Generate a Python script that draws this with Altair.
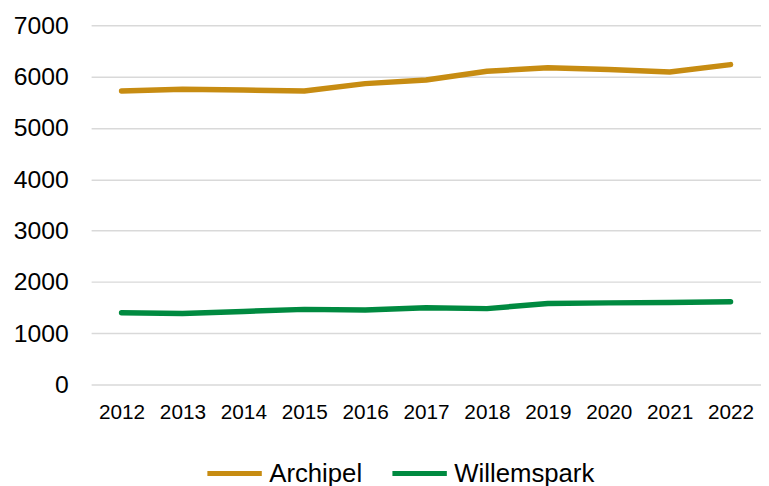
import altair as alt
import pandas as pd

years = ["2012", "2013", "2014", "2015", "2016", "2017", "2018", "2019", "2020", "2021", "2022"]
archipel = [5720, 5755, 5740, 5720, 5865, 5935, 6105, 6175, 6140, 6090, 6235]
willemspark = [1400, 1385, 1425, 1465, 1452, 1495, 1480, 1580, 1592, 1600, 1612]
series = ["Archipel", "Willemspark"]
colors = ["#C78C12", "#008A40"]
y_ticks = [0, 1000, 2000, 3000, 4000, 5000, 6000, 7000]

rows = []
for name, vals in zip(series, [archipel, willemspark]):
    for y, v in zip(years, vals):
        rows.append({"year": y, "series": name, "value": v})
df = pd.DataFrame(rows)

chart = alt.Chart(df).mark_line(strokeWidth=5.5, strokeCap="round", strokeJoin="round").encode(
    x=alt.X("year:O", sort=years, title=None,
            axis=alt.Axis(labelAngle=0, labelFontSize=21, labelFont="Liberation Sans",
                          labelColor="#000000", ticks=False, domain=False, grid=False,
                          labelPadding=17)),
    y=alt.Y("value:Q", title=None, scale=alt.Scale(domain=[0, 7000], nice=False),
            axis=alt.Axis(values=y_ticks, format="d", labelFontSize=25, labelFont="Liberation Sans",
                          labelColor="#000000", ticks=False, domain=False,
                          labelPadding=23, gridColor="#D9D9D9", gridWidth=1.5)),
    color=alt.Color("series:N", scale=alt.Scale(domain=series, range=colors), title=None,
                    legend=alt.Legend(orient="none", direction="horizontal", legendX=115,
                                      legendY=423, symbolType="stroke", symbolSize=3025,
                                      symbolStrokeWidth=5, labelFontSize=26,
                                      labelFont="Liberation Sans", labelColor="#000000",
                                      columnPadding=20, labelOffset=5)),
).properties(
    width=677, height=363,
    autosize=alt.AutoSizeParams(type="none"),
    padding={"left": 84, "top": 15, "right": 0, "bottom": 100},
).configure_view(stroke=None)

chart.save("out.html", embed_options={"renderer": "svg", "actions": False})
